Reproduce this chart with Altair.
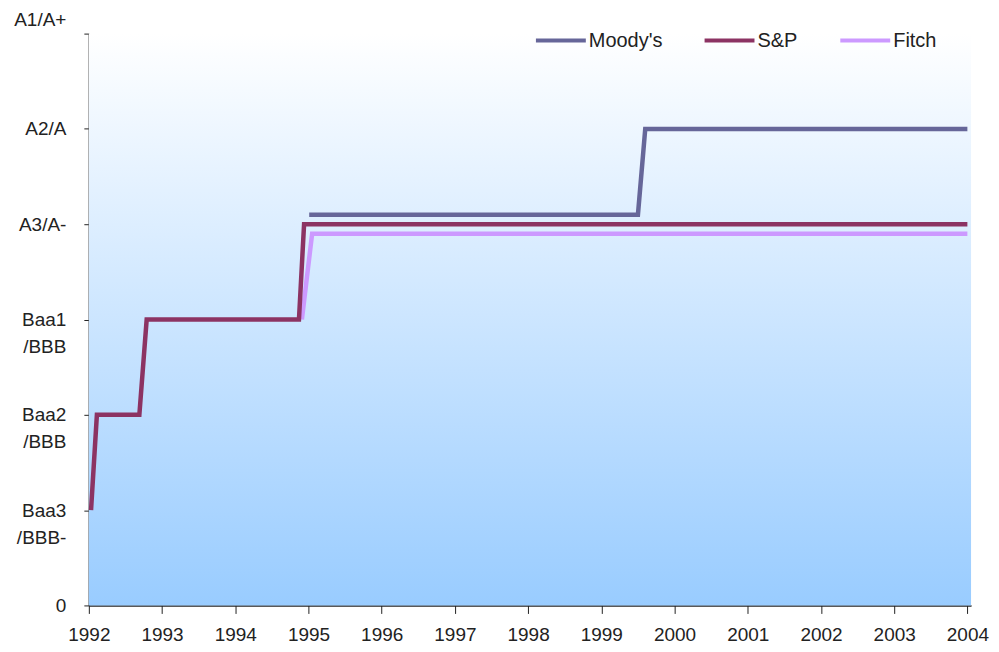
import json
import altair as alt
import pandas as pd

# ---------------- data ----------------
agencies = ["Moody's", "S&P", "Fitch"]
colors = ["#666699", "#8C3363", "#CC99FF"]

moodys_year = [1995.01, 1999.50, 1999.60, 2004.0]
moodys_rating = [4.1, 4.1, 5.0, 5.0]

sp_year = [1992.03, 1992.11, 1992.69, 1992.79, 1994.87, 1994.94, 2004.0]
sp_rating = [1, 2, 2, 3, 3, 4, 4]

fitch_year = [1994.91, 1995.05, 2004.0]
fitch_rating = [3, 3.9, 3.9]

y_tick_values = [0, 1, 2, 3, 4, 5, 6]
y_tick_labels = ["0", ["Baa3", "/BBB-"], ["Baa2", "/BBB"], ["Baa1", "/BBB"],
                 "A3/A-", "A2/A", "A1/A+"]
x_tick_values = list(range(1992, 2005))

rows = []
for name, ys, rs in [("Fitch", fitch_year, fitch_rating),
                     ("S&P", sp_year, sp_rating),
                     ("Moody's", moodys_year, moodys_rating)]:
    for i, (yr, r) in enumerate(zip(ys, rs)):
        rows.append({"agency": name, "year": yr, "rating": r, "idx": i})
df = pd.DataFrame(rows)

W, H = 884, 573
FONT = "Liberation Sans"
FS = 19

bg = alt.Chart(pd.DataFrame({"a": [0]})).mark_rect(
    color=alt.Gradient(
        gradient="linear",
        stops=[alt.GradientStop(color="#FFFFFF", offset=0),
               alt.GradientStop(color="#99CCFF", offset=1)],
        x1=0, x2=0, y1=0, y2=1,
    )
).encode(
    x=alt.value(0), x2=alt.value(W), y=alt.value(0), y2=alt.value(H)
)

label_expr = json.dumps(y_tick_labels) + "[datum.value]"

lines = alt.Chart(df).mark_line(strokeWidth=4.5).encode(
    x=alt.X("year:Q",
            scale=alt.Scale(domain=[1992, 2004.05], nice=False, zero=False),
            axis=alt.Axis(values=x_tick_values, format="d", title=None, grid=False,
                          tickSize=8, labelPadding=12, labelFontSize=FS,
                          labelFont=FONT, labelColor="#222222",
                          domainColor="#222222", tickColor="#222222",
                          domainWidth=1.5, labelFlush=False)),
    y=alt.Y("rating:Q",
            scale=alt.Scale(domain=[0, 6], nice=False),
            axis=alt.Axis(values=y_tick_values, labelExpr=label_expr, title=None,
                          grid=False, tickSize=5, labelPadding=18,
                          labelFontSize=FS, labelFont=FONT, labelColor="#222222",
                          labelAlign="right", labelLineHeight=27,
                          labelOffset={"condition": {"test": "datum.value == 6", "value": -14},
                                       "value": 0},
                          domainColor="#222222", tickColor="#222222",
                          domainWidth=1.5, labelFlush=False)),
    color=alt.Color("agency:N",
                    scale=alt.Scale(domain=agencies, range=colors),
                    legend=alt.Legend(orient="none", legendX=446, legendY=-20,
                                      direction="horizontal", title=None,
                                      symbolType="stroke", symbolSize=2500,
                                      symbolStrokeWidth=4, labelFont=FONT,
                                      labelFontSize=20, labelColor="#222222",
                                      labelOffset=1, columnPadding=34)),
    detail="agency:N",
    order="idx:Q",
)

chart = alt.layer(bg, lines).properties(
    width=W, height=H,
    autosize="none",
    padding={"left": 81, "top": 25, "right": 20, "bottom": 40},
).configure_view(stroke=None)

chart.save("out.html", embed_options={"renderer": "svg", "actions": False})
